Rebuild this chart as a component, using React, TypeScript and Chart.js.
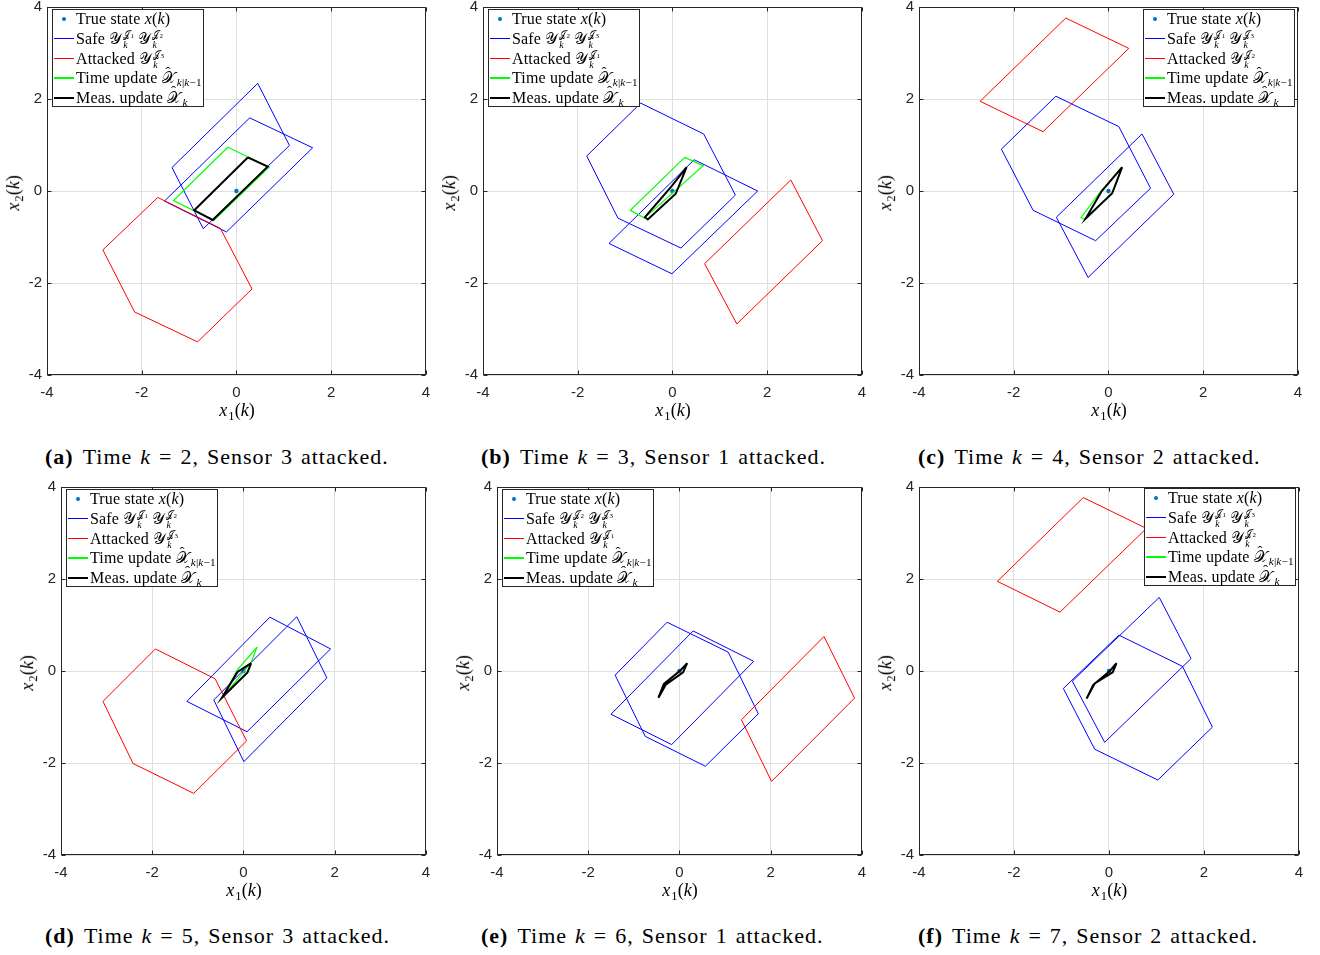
import React, { useEffect, useRef } from 'react';
import { Chart, registerables } from 'chart.js';
Chart.register(...registerables);

type Pt = [number, number];

// ---------- data ----------
const axisTicks = [-4, -2, 0, 2, 4];
const timeSteps = [2, 3, 4, 5, 6, 7];
const attackedSensor = [3, 1, 2, 3, 1, 2];
const safeSensors = [[1, 2], [2, 3], [1, 3], [1, 2], [2, 3], [1, 3]];
const panelLetters = ['a', 'b', 'c', 'd', 'e', 'f'];
const trueStateX = [0, 0, 0, 0, 0, 0];
const trueStateY = [0, 0, 0, 0, 0, 0];

// (a) k = 2
const safeA1: Pt[] = [[0.45, 2.34], [1.12, 0.99], [-0.70, -0.82], [-1.36, 0.51]];
const safeA2: Pt[] = [[0.28, 1.59], [1.61, 0.94], [-0.21, -0.89], [-1.52, -0.22]];
const attackedA: Pt[] = [[-1.66, -0.14], [-0.34, -0.81], [0.33, -2.13], [-0.82, -3.28], [-2.15, -2.63], [-2.82, -1.28]];
const timeA: Pt[] = [[-0.18, 0.95], [0.69, 0.52], [-0.48, -0.64], [-1.33, -0.21]];
const measA: Pt[] = [[0.24, 0.73], [0.66, 0.53], [-0.50, -0.63], [-0.89, -0.42]];

// (b) k = 3
const safeB1: Pt[] = [[-0.67, 1.91], [0.66, 1.24], [1.33, -0.09], [0.18, -1.24], [-1.15, -0.59], [-1.81, 0.76]];
const safeB2: Pt[] = [[0.46, 0.68], [1.80, 0.0], [-0.01, -1.80], [-1.34, -1.14]];
const attackedB: Pt[] = [[2.50, 0.24], [3.17, -1.08], [1.36, -2.89], [0.68, -1.58]];
const timeB: Pt[] = [[0.26, 0.73], [0.65, 0.55], [-0.59, -0.59], [-0.89, -0.42]];
const measB: Pt[] = [[0.30, 0.52], [0.07, -0.06], [-0.52, -0.62], [-0.58, -0.57], [-0.02, 0.10]];

// (c) k = 4
const safeC1: Pt[] = [[-1.11, 2.06], [0.22, 1.40], [0.89, 0.06], [-0.27, -1.08], [-1.59, -0.42], [-2.26, 0.91]];
const safeC2: Pt[] = [[0.71, 1.24], [1.38, -0.07], [-0.43, -1.88], [-1.10, -0.57]];
const attackedC: Pt[] = [[-0.90, 3.76], [0.43, 3.10], [-1.38, 1.29], [-2.71, 1.95]];
const timeC: Pt[] = [[0.29, 0.52], [0.08, -0.05], [-0.51, -0.61], [-0.58, -0.58], [-0.17, -0.02]];
const measC: Pt[] = [[0.29, 0.52], [0.08, -0.05], [-0.48, -0.60], [-0.14, 0.0]];

// (d) k = 5
const safeD1: Pt[] = [[0.58, 1.17], [1.91, 0.48], [0.08, -1.32], [-1.24, -0.66]];
const safeD2: Pt[] = [[1.17, 1.18], [1.83, -0.15], [0.01, -1.97], [-0.65, -0.63]];
const attackedD: Pt[] = [[-1.93, 0.48], [-0.62, -0.17], [0.07, -1.52], [-1.09, -2.66], [-2.42, -2.01], [-3.08, -0.66]];
const timeD: Pt[] = [[0.30, 0.52], [0.17, 0.19], [-0.46, -0.58], [-0.13, 0.03]];
const measD: Pt[] = [[0.17, 0.17], [0.09, -0.03], [-0.44, -0.55], [-0.47, -0.58], [-0.13, -0.02]];

// (e) k = 6
const safeE1: Pt[] = [[-0.27, 1.06], [1.07, 0.41], [1.73, -0.93], [0.57, -2.07], [-0.75, -1.42], [-1.41, -0.09]];
const safeE2: Pt[] = [[0.30, 0.87], [1.63, 0.21], [-0.17, -1.60], [-1.50, -0.94]];
const attackedE: Pt[] = [[3.17, 0.75], [3.84, -0.59], [2.02, -2.40], [1.36, -1.06]];
const timeE: Pt[] = [[0.17, 0.17], [0.08, -0.03], [-0.30, -0.30], [-0.46, -0.58], [-0.34, -0.28], [0.02, 0.01]];
const measE: Pt[] = [[0.17, 0.17], [0.08, -0.03], [-0.30, -0.30], [-0.46, -0.58], [-0.34, -0.28], [0.02, 0.01]];

// (f) k = 7
const safeF1: Pt[] = [[1.06, 1.60], [1.73, 0.27], [-0.09, -1.55], [-0.77, -0.22]];
const safeF2: Pt[] = [[0.21, 0.78], [1.55, 0.10], [2.18, -1.22], [1.03, -2.37], [-0.30, -1.70], [-0.96, -0.38]];
const attackedF: Pt[] = [[-0.54, 3.77], [0.79, 3.10], [-1.03, 1.28], [-2.35, 1.95]];
const timeF: Pt[] = [[0.16, 0.17], [0.08, -0.03], [-0.30, -0.27], [-0.47, -0.60], [-0.33, -0.30], [0.02, 0.0]];
const measF: Pt[] = [[0.16, 0.17], [0.08, -0.03], [-0.30, -0.27], [-0.47, -0.60], [-0.33, -0.30], [0.02, 0.0]];

const safeSets = [[safeA1, safeA2], [safeB1, safeB2], [safeC1, safeC2], [safeD1, safeD2], [safeE1, safeE2], [safeF1, safeF2]];
const attackedSets = [attackedA, attackedB, attackedC, attackedD, attackedE, attackedF];
const timeSets = [timeA, timeB, timeC, timeD, timeE, timeF];
const measSets = [measA, measB, measC, measD, measE, measF];

// ---------- layout ----------
const boxLeft = [47, 483, 919, 61, 497, 919];
const boxTop = [5, 5, 5, 485, 485, 485];
const boxWidth = [380, 380, 380, 366, 366, 381];
const boxHeight = [370, 370, 370, 370, 370, 370];
const legendLeft = [52, 488, 1143, 66, 502, 1144];
const legendTop = [9, 9, 9, 489, 489, 488];
const captionLeft = [45, 481, 918, 45, 481, 918];
const captionCenterY = [457, 457, 457, 936, 936, 936];

const YW = 40, PT = 12, PR = 12, XH = 28;
const SERIF = '"Liberation Serif", "DejaVu Serif", serif';
const CAL = '"DejaVu Serif", "DejaVu Sans", "Noto Sans", serif';
const AXIS_COLOR = '#262626';
const GRID_COLOR = '#dfdfdf';

const closePoly = (pts: Pt[]) => [...pts, pts[0]].map(([x, y]) => ({ x, y }));

const framePlugin = {
  id: 'matlabFrame',
  afterDatasetsDraw(chart: any) {
    const { ctx, chartArea: a, scales } = chart;
    ctx.save();
    ctx.strokeStyle = AXIS_COLOR;
    ctx.lineWidth = 1;
    const l = Math.round(a.left) + 0.5, r = Math.round(a.right) - 0.5;
    const t = Math.round(a.top) + 0.5, b = Math.round(a.bottom) - 0.5;
    ctx.strokeRect(l, t, r - l, b - t);
    ctx.beginPath();
    const TL = 4;
    axisTicks.forEach((v) => {
      const px = Math.round(scales.x.getPixelForValue(v)) + 0.5;
      ctx.moveTo(px, b); ctx.lineTo(px, b - TL);
      ctx.moveTo(px, t); ctx.lineTo(px, t + TL);
      const py = Math.round(scales.y.getPixelForValue(v)) + 0.5;
      ctx.moveTo(l, py); ctx.lineTo(l + TL, py);
      ctx.moveTo(r, py); ctx.lineTo(r - TL, py);
    });
    ctx.stroke();
    ctx.restore();
  },
};

function buildConfig(i: number): any {
  const poly = (pts: Pt[], color: string, width: number, order: number) => ({
    data: closePoly(pts),
    showLine: true,
    borderColor: color,
    backgroundColor: color,
    borderWidth: width,
    pointRadius: 0,
    fill: false,
    tension: 0,
    borderJoinStyle: 'miter',
    order,
  });
  const tickFont = { family: '"Liberation Sans", Arial, sans-serif', size: 15 };
  const scaleBase = (fitKey: 'width' | 'height', fitVal: number) => ({
    type: 'linear',
    min: axisTicks[0],
    max: axisTicks[axisTicks.length - 1],
    afterBuildTicks: (s: any) => { s.ticks = axisTicks.map((v) => ({ value: v })); },
    afterFit: (s: any) => { s[fitKey] = fitVal; },
    ticks: { font: tickFont, color: AXIS_COLOR, padding: fitKey === 'width' ? 5 : 9, maxRotation: 0, autoSkip: false },
    grid: { color: GRID_COLOR, drawTicks: false, lineWidth: 1 },
    border: { display: false },
  });
  return {
    type: 'scatter',
    data: {
      datasets: [
        { label: 'True state', data: [{ x: trueStateX[i], y: trueStateY[i] }], pointRadius: 2.2, pointHoverRadius: 2.2, backgroundColor: '#0072BD', borderColor: '#0072BD', borderWidth: 0, showLine: false, order: 6 },
        poly(safeSets[i][0], '#0000ff', 1, 5),
        poly(safeSets[i][1], '#0000ff', 1, 4),
        poly(attackedSets[i], '#ff0000', 1, 3),
        poly(timeSets[i], '#00ff00', 1.2, 2),
        poly(measSets[i], '#000000', 2, 1),
      ],
    },
    options: {
      animation: false,
      responsive: false,
      maintainAspectRatio: false,
      devicePixelRatio: 1,
      events: [],
      layout: { padding: { top: PT, right: PR, left: 0, bottom: 0 } },
      plugins: { legend: { display: false }, tooltip: { enabled: false } },
      scales: {
        x: scaleBase('height', XH),
        y: scaleBase('width', YW),
      },
    },
    plugins: [framePlugin],
  };
}

// ---------- math text helpers ----------
function SubSup({ sub, sup }: { sub: React.ReactNode; sup: React.ReactNode }) {
  return (
    <span style={{ display: 'inline-block', verticalAlign: '-0.42em', lineHeight: 0.95, fontSize: '0.62em', marginLeft: 1, textAlign: 'left' }}>
      <span style={{ display: 'block' }}>{sup}</span>
      <span style={{ display: 'block' }}>{sub}</span>
    </span>
  );
}
function Sub({ children }: { children: React.ReactNode }) {
  return <span style={{ fontSize: '0.7em', verticalAlign: '-0.3em', marginLeft: 1 }}>{children}</span>;
}
function Cal({ ch }: { ch: string }) {
  return <span style={{ fontFamily: CAL, fontStyle: 'normal' }}>{ch}</span>;
}
function HatX() {
  return (
    <span style={{ position: 'relative', display: 'inline-block' }}>
      <Cal ch={'\u{1D4B3}'} />
      <span style={{ position: 'absolute', left: '0.25em', top: '-0.42em', fontSize: '0.95em' }}>{'\u02C6'}</span>
    </span>
  );
}
function YSet({ j }: { j: number }) {
  return (
    <span>
      <Cal ch={'\u{1D4B4}'} />
      <SubSup sup={<span><Cal ch={'\u{1D4A5}'} /><span style={{ fontSize: '0.7em' }}>{j}</span></span>} sub={<i>k</i>} />
    </span>
  );
}

function Legend({ i }: { i: number }) {
  const rows = [9.3, 28.9, 48.5, 68.1, 87.7];
  const textStyle = (c: number): React.CSSProperties => ({ position: 'absolute', left: 23, top: c - 11, height: 22, lineHeight: '22px', whiteSpace: 'nowrap', letterSpacing: 0.15 });
  const line = (c: number, color: string, w: number): React.CSSProperties => ({ position: 'absolute', left: 1, width: 20, top: c - w / 2, height: w, background: color });
  return (
    <div style={{ position: 'absolute', left: legendLeft[i], top: legendTop[i], width: 152, height: 98, boxSizing: 'border-box', border: `1px solid ${AXIS_COLOR}`, background: '#fff', fontFamily: SERIF, fontSize: 16, color: '#000' }}>
      <div style={{ position: 'absolute', left: 9, top: rows[0] - 2, width: 4, height: 4, borderRadius: 2, background: '#0072BD' }} />
      <span style={textStyle(rows[0])}>True state <i>x</i>(<i>k</i>)</span>
      <div style={line(rows[1], '#0000ff', 1)} />
      <span style={textStyle(rows[1])}>Safe <YSet j={safeSensors[i][0]} /> <YSet j={safeSensors[i][1]} /></span>
      <div style={line(rows[2], '#ff0000', 1)} />
      <span style={textStyle(rows[2])}>Attacked <YSet j={attackedSensor[i]} /></span>
      <div style={line(rows[3], '#00ff00', 1.5)} />
      <span style={textStyle(rows[3])}>Time update <HatX /><Sub><i>k</i>|<i>k</i>{'\u2212'}1</Sub></span>
      <div style={line(rows[4], '#000000', 2)} />
      <span style={textStyle(rows[4])}>Meas. update <HatX /><Sub><i>k</i></Sub></span>
    </div>
  );
}

function Panel({ i }: { i: number }) {
  const ref = useRef<HTMLCanvasElement>(null);
  useEffect(() => {
    const chart = new Chart(ref.current as HTMLCanvasElement, buildConfig(i));
    return () => chart.destroy();
  }, [i]);
  const cw = YW + boxWidth[i] + PR;
  const ch = PT + boxHeight[i] + XH;
  const cx = boxLeft[i] + boxWidth[i] / 2;
  const cy = boxTop[i] + boxHeight[i] / 2;
  const labelFont: React.CSSProperties = { fontFamily: SERIF, fontSize: 18, whiteSpace: 'nowrap', position: 'absolute', lineHeight: '22px' };
  return (
    <>
      <canvas ref={ref} width={cw} height={ch} style={{ position: 'absolute', left: boxLeft[i] - YW, top: boxTop[i] - PT, width: cw, height: ch }} />
      <div style={{ ...labelFont, left: cx - 40, width: 80, textAlign: 'center', top: boxTop[i] + boxHeight[i] + 35 - 11 }}>
        <i>x</i><Sub>1</Sub>(<i>k</i>)
      </div>
      <div style={{ ...labelFont, left: boxLeft[i] - 31 - 40, width: 80, textAlign: 'center', top: cy - 11, transform: 'rotate(-90deg)' }}>
        <i>x</i><Sub>2</Sub>(<i>k</i>)
      </div>
      <Legend i={i} />
      <div style={{ position: 'absolute', left: captionLeft[i], top: captionCenterY[i] - 13, height: 26, lineHeight: '26px', fontFamily: SERIF, fontSize: 22, whiteSpace: 'nowrap', letterSpacing: 1.0, wordSpacing: 1.5 }}>
        <b>({panelLetters[i]})</b><span style={{ marginLeft: 9 }}>Time <i>k</i> = {timeSteps[i]}, Sensor {attackedSensor[i]} attacked.</span>
      </div>
    </>
  );
}

export default function App() {
  return (
    <div style={{ position: 'absolute', left: 0, top: 0, width: 1320, height: 955, background: '#fff', overflow: 'hidden' }}>
      {timeSteps.map((_, i) => <Panel key={i} i={i} />)}
    </div>
  );
}
